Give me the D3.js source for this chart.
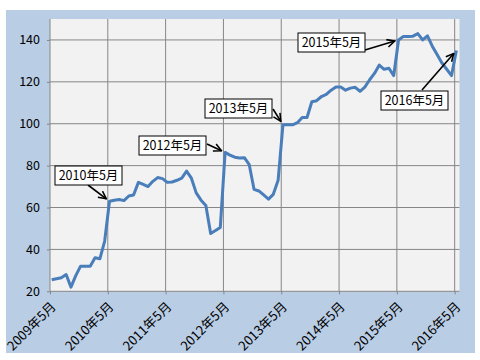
<!DOCTYPE html>
<html>
<head>
<meta charset="utf-8">
<script src="https://cdn.jsdelivr.net/npm/d3@7"></script>
<style>
  body { margin: 0; background: #fff; }
  svg text { font-family: "Noto Sans CJK JP", "DejaVu Sans", sans-serif; }
</style>
</head>
<body>
<div id="chart"></div>
<script>
// monthly index, 2009年5月 .. 2016年5月
const values = [
  25.5, 26, 26.5, 28, 22, 27.5, 32, 32, 32, 36, 35.5, 44,
  63, 63.5, 63.8, 63.3, 65.5, 66, 72, 71, 70, 72.5, 74.3, 73.8,
  72, 72.2, 73, 74, 77.4, 74, 67, 63.5, 61, 47.6, 49, 50.5,
  86.3, 85, 84, 83.6, 83.8, 80.5, 68.7, 67.9, 66, 64, 66.3, 73,
  99.5, 99.5, 99.5, 100.5, 103, 103, 110.5, 111, 113, 114, 116, 117.5,
  117.5, 116, 117, 117.4, 115.5, 117.5, 121, 124, 128, 126, 126.5, 123,
  140, 141.7, 141.6, 141.8, 143, 140, 142, 137, 133, 129, 126, 123,
  135
];
const tickLabels = ["2009年5月", "2010年5月", "2011年5月", "2012年5月",
                    "2013年5月", "2014年5月", "2015年5月", "2016年5月"];
const yTicks = [20, 40, 60, 80, 100, 120, 140];
const noteLabels = ["2010年5月", "2012年5月", "2013年5月", "2015年5月", "2016年5月"];
const noteIndex = [12, 36, 48, 72, 84];

// layout for the callout boxes (top-left corner) and where the arrow leaves them
const noteBox = [[55, 166], [139, 136], [205, 99], [298, 33], [381, 91]];
const noteFrom = [[88, 185], [207, 144], [273, 109], [365, 50], [422, 90]];

const w = 480, h = 360;
const svg = d3.select("#chart").append("svg")
    .attr("width", w)
    .attr("height", h);

svg.append("rect")
    .attr("x", 6).attr("y", 10)
    .attr("width", 469).attr("height", 343)
    .style("fill", "#b9cde5");

const pLeft = 50, pRight = 459.5, pTop = 19, pBottom = 291.3;

svg.append("rect")
    .attr("x", pLeft).attr("y", pTop)
    .attr("width", pRight - pLeft).attr("height", pBottom - pTop)
    .style("fill", "#f2f2f2");

const x = d3.scaleLinear().domain([0, 85]).range([pLeft, pRight]);
const y = d3.scaleLinear().domain([20, 150]).range([pBottom, pTop]);

// grid
svg.selectAll(".hgrid")
    .data(yTicks.slice(1))
    .enter().append("line")
    .attr("x1", pLeft).attr("x2", pRight)
    .attr("y1", d => y(d)).attr("y2", d => y(d))
    .style("stroke", "#868686");

svg.selectAll(".vgrid")
    .data(tickLabels.slice(1))
    .enter().append("line")
    .attr("x1", (d, i) => x((i + 1) * 12)).attr("x2", (d, i) => x((i + 1) * 12))
    .attr("y1", pTop).attr("y2", pBottom)
    .style("stroke", "#868686");

// y axis
const yAxis = svg.append("g")
    .attr("transform", "translate(" + pLeft + ",0)")
    .call(d3.axisLeft(y).tickValues(yTicks).tickSize(3).tickPadding(7));
yAxis.select(".domain").attr("d", "M0," + pTop + "V" + pBottom).style("stroke", "#868686");
yAxis.selectAll("line").style("stroke", "#868686");
yAxis.selectAll("text").style("font-size", "12.5px").style("fill", "#000");

// x axis
const xAxis = svg.append("g")
    .attr("transform", "translate(0," + pBottom + ")")
    .call(d3.axisBottom(x)
        .tickValues(d3.range(0, 85, 12))
        .tickFormat((d, i) => tickLabels[i])
        .tickSize(3));
xAxis.select(".domain").attr("d", "M" + pLeft + ",0H" + pRight).style("stroke", "#868686");
xAxis.selectAll("line").style("stroke", "#868686");
xAxis.selectAll("text")
    .style("font-size", "13px")
    .style("fill", "#000")
    .attr("text-anchor", "end")
    .attr("x", 0).attr("y", 0)
    .attr("dy", "0.35em")
    .attr("transform", "translate(3,13) rotate(-45)");

// line
const line = d3.line()
    .x((d, i) => x(i + 0.35))
    .y(d => y(d));

svg.append("path")
    .datum(values)
    .attr("d", line)
    .style("fill", "none")
    .style("stroke", "#4a7ebb")
    .style("stroke-width", 3)
    .style("stroke-linejoin", "round");

// callouts
svg.append("defs").append("marker")
    .attr("id", "arrow")
    .attr("viewBox", "0 0 10 10")
    .attr("refX", 9).attr("refY", 5)
    .attr("markerWidth", 6).attr("markerHeight", 6)
    .attr("orient", "auto")
    .append("path")
    .attr("d", "M1,1 L9,5 L1,9")
    .style("fill", "none")
    .style("stroke", "#000")
    .style("stroke-width", 1.6);

function tip(i) {
    const tx = x(noteIndex[i] + 0.35), ty = y(values[noteIndex[i]]);
    const dx = tx - noteFrom[i][0], dy = ty - noteFrom[i][1];
    const len = Math.sqrt(dx * dx + dy * dy);
    return [tx - dx / len * 4, ty - dy / len * 4];
}

const notes = svg.selectAll(".note")
    .data(noteLabels)
    .enter().append("g")
    .attr("class", "note");

notes.append("line")
    .attr("x1", (d, i) => noteFrom[i][0])
    .attr("y1", (d, i) => noteFrom[i][1])
    .attr("x2", (d, i) => tip(i)[0])
    .attr("y2", (d, i) => tip(i)[1])
    .style("stroke", "#000")
    .style("stroke-width", 1.6)
    .attr("marker-end", "url(#arrow)");

notes.append("rect")
    .attr("x", (d, i) => noteBox[i][0])
    .attr("y", (d, i) => noteBox[i][1])
    .attr("width", 67).attr("height", 19)
    .style("fill", "#fff")
    .style("stroke", "#000");

notes.append("text")
    .attr("x", (d, i) => noteBox[i][0] + 33.5)
    .attr("y", (d, i) => noteBox[i][1] + 14)
    .attr("text-anchor", "middle")
    .style("font-size", "12.5px")
    .text(d => d);
</script>
</body>
</html>
